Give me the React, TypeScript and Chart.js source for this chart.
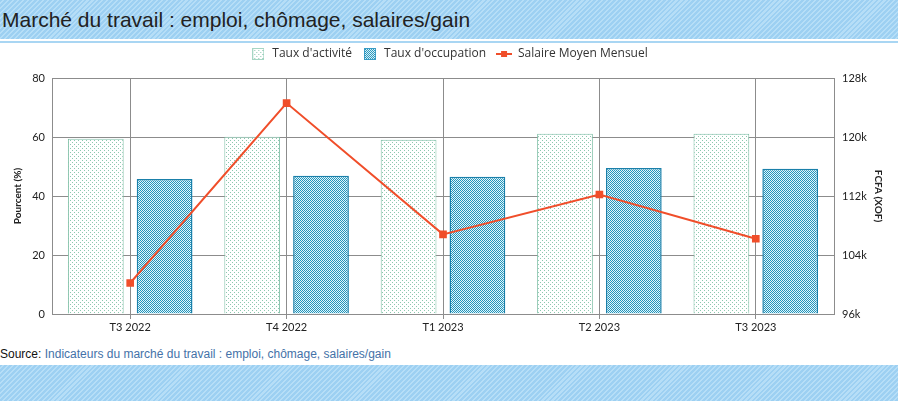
import React, { useEffect, useRef } from "react";
import { Chart, registerables } from "chart.js";

Chart.register(...registerables);

const categories = ["T3 2022", "T4 2022", "T1 2023", "T2 2023", "T3 2023"];
const tauxActivite = [59.4, 60.1, 59.1, 61.1, 61.1];
const tauxOccupation = [45.8, 46.9, 46.5, 49.5, 49.2];
const salaireMoyen = [100200, 124600, 106800, 112200, 106200];
const leftTicksMax = 80;
const rightTicksMin = 96000;
const rightTicksMax = 128000;

const TITLE = "Marché du travail : emploi, chômage, salaires/gain";

function makeCanvas(w: number, h: number) {
  const c = document.createElement("canvas");
  c.width = w;
  c.height = h;
  return c;
}

function dotTile() {
  const c = makeCanvas(4, 4);
  const g = c.getContext("2d")!;
  g.fillStyle = "#ffffff";
  g.fillRect(0, 0, 4, 4);
  g.fillStyle = "#8cc8ae";
  g.fillRect(0, 0, 1, 1);
  g.fillRect(2, 2, 1, 1);
  return c;
}

function checkTile() {
  const c = makeCanvas(2, 2);
  const g = c.getContext("2d")!;
  g.fillStyle = "#e2f7fb";
  g.fillRect(0, 0, 2, 2);
  g.fillStyle = "#2393bb";
  g.fillRect(0, 0, 1, 1);
  g.fillRect(1, 1, 1, 1);
  return c;
}

const stripes =
  "repeating-linear-gradient(135deg, #9dd0f2 0px, #9dd0f2 2px, #b6def7 2px, #b6def7 3.5px)";

export default function App() {
  const ref = useRef<HTMLCanvasElement | null>(null);

  useEffect(() => {
    if (!ref.current) return;
    const ctx = ref.current.getContext("2d")!;
    const patA = ctx.createPattern(dotTile(), "repeat")!;
    const patB = ctx.createPattern(checkTile(), "repeat")!;

    const iconA = makeCanvas(12, 12);
    {
      const g = iconA.getContext("2d")!;
      g.fillStyle = g.createPattern(dotTile(), "repeat")!;
      g.fillRect(0, 0, 12, 12);
      g.strokeStyle = "#a6d6c4";
      g.lineWidth = 1;
      g.strokeRect(0.5, 0.5, 11, 11);
    }
    const iconB = makeCanvas(12, 12);
    {
      const g = iconB.getContext("2d")!;
      g.fillStyle = g.createPattern(checkTile(), "repeat")!;
      g.fillRect(0, 0, 12, 12);
      g.strokeStyle = "#3a9cc4";
      g.lineWidth = 1;
      g.strokeRect(0.5, 0.5, 11, 11);
    }
    const iconC = makeCanvas(16, 12);
    {
      const g = iconC.getContext("2d")!;
      g.strokeStyle = "#f04e2a";
      g.lineWidth = 2;
      g.beginPath();
      g.moveTo(0, 6);
      g.lineTo(16, 6);
      g.stroke();
      g.fillStyle = "#f04e2a";
      g.fillRect(5, 3, 6, 6);
    }
    const icons = [iconA, iconB, iconC];

    const grid = "#8c8c8c";
    const tickFont = { family: "Lato", size: 11 };

    const chart = new Chart(ref.current, {
      data: {
        labels: categories,
        datasets: [
          {
            type: "line",
            label: "Salaire Moyen Mensuel",
            data: salaireMoyen,
            yAxisID: "y1",
            borderColor: "#f04e2a",
            backgroundColor: "#f04e2a",
            borderWidth: 2,
            pointStyle: "rect",
            pointRadius: 4,
            pointBackgroundColor: "#f04e2a",
            pointBorderColor: "#f04e2a",
            order: 0,
          },
          {
            type: "bar",
            label: "Taux d'activité",
            data: tauxActivite,
            yAxisID: "y",
            backgroundColor: patA as any,
            borderColor: "#7fbfa6",
            borderWidth: 1,
            categoryPercentage: 0.88,
            barPercentage: 0.81,
            order: 1,
          },
          {
            type: "bar",
            label: "Taux d'occupation",
            data: tauxOccupation,
            yAxisID: "y",
            backgroundColor: patB as any,
            borderColor: "#1a80aa",
            borderWidth: 1.5,
            categoryPercentage: 0.88,
            barPercentage: 0.81,
            order: 2,
          },
        ],
      } as any,
      options: {
        animation: false,
        responsive: true,
        maintainAspectRatio: false,
        layout: { padding: 0 },
        plugins: {
          tooltip: { enabled: false },
          title: {
            display: true,
            text: " ",
            font: { size: 1, lineHeight: 1 },
            padding: { top: 7, bottom: 0 },
            weight: 500,
          } as any,
          legend: {
            display: true,
            position: "top",
            labels: {
              usePointStyle: true,
              pointStyleWidth: 16,
              padding: 10,
              color: "#333",
              font: { family: "Open Sans", size: 12 },
              sort: (a: any, b: any) => {
                const ord = [1, 2, 0];
                return ord.indexOf(a.datasetIndex) - ord.indexOf(b.datasetIndex);
              },
              generateLabels: (ch: any) => {
                const items = (Chart.defaults.plugins.legend.labels as any).generateLabels(ch);
                return items.map((it: any) => ({
                  ...it,
                  pointStyle:
                    it.datasetIndex === 1 ? icons[0] : it.datasetIndex === 2 ? icons[1] : icons[2],
                }));
              },
            },
          },
        },
        scales: {
          x: {
            type: "category",
            offset: true,
            grid: { offset: false, color: grid, lineWidth: 1, tickLength: 5, drawTicks: true },
            border: { color: grid },
            ticks: { color: "#222", font: tickFont, padding: 2, maxRotation: 0 },
            afterFit: (s: any) => {
              s.height = 28;
            },
          },
          y: {
            type: "linear",
            position: "left",
            min: 0,
            max: leftTicksMax,
            ticks: { stepSize: 20, color: "#222", font: tickFont, padding: 7 },
            grid: { color: grid, lineWidth: 1, drawTicks: false },
            border: { color: grid },
            title: {
              display: true,
              text: "Pourcent (%)",
              color: "#222",
              font: { family: "Lato", size: 10, weight: "bold" },
              padding: { top: 12, bottom: 0 },
            },
            afterFit: (s: any) => {
              s.width = 52;
            },
          },
          y1: {
            type: "linear",
            position: "right",
            min: rightTicksMin,
            max: rightTicksMax,
            ticks: {
              stepSize: 8000,
              color: "#222",
              font: tickFont,
              padding: 8,
              callback: (v: any) => Number(v) / 1000 + "k",
            },
            grid: { drawOnChartArea: false, drawTicks: false, color: grid },
            border: { color: grid },
            title: {
              display: true,
              text: "FCFA (XOF)",
              color: "#222",
              font: { family: "Lato", size: 10, weight: "bold" },
              padding: { top: 14, bottom: 0 },
            },
            afterFit: (s: any) => {
              s.width = 64;
            },
          },
        },
      } as any,
    });
    return () => chart.destroy();
  }, []);

  return (
    <div style={{ position: "relative", width: 898, height: 415, background: "#fff", fontFamily: "'Liberation Sans', Arial, sans-serif" }}>
      <style>{`body{margin:0;}`}</style>
      <div
        style={{
          position: "absolute",
          left: 0,
          top: 0,
          width: 898,
          height: 39,
          background: stripes,
          color: "#222",
          fontSize: 21,
          lineHeight: "40px",
          paddingLeft: 2,
          boxSizing: "border-box",
          whiteSpace: "nowrap",
        }}
      >
        {TITLE}
      </div>
      <div style={{ position: "absolute", left: 0, top: 41, width: 898, height: 2, background: "#a9d6f3" }} />
      <div style={{ position: "absolute", left: 0, top: 38, width: 898, height: 304 }}>
        <canvas ref={ref} />
      </div>
      <div
        style={{
          position: "absolute",
          left: 0,
          top: 345,
          width: 898,
          height: 18,
          fontSize: 12,
          lineHeight: "18px",
          color: "#111",
          whiteSpace: "nowrap",
        }}
      >
        Source: <span style={{ color: "#4472a8" }}>Indicateurs du marché du travail : emploi, chômage, salaires/gain</span>
      </div>
      <div style={{ position: "absolute", left: 0, top: 365, width: 898, height: 36, background: stripes }} />
    </div>
  );
}
